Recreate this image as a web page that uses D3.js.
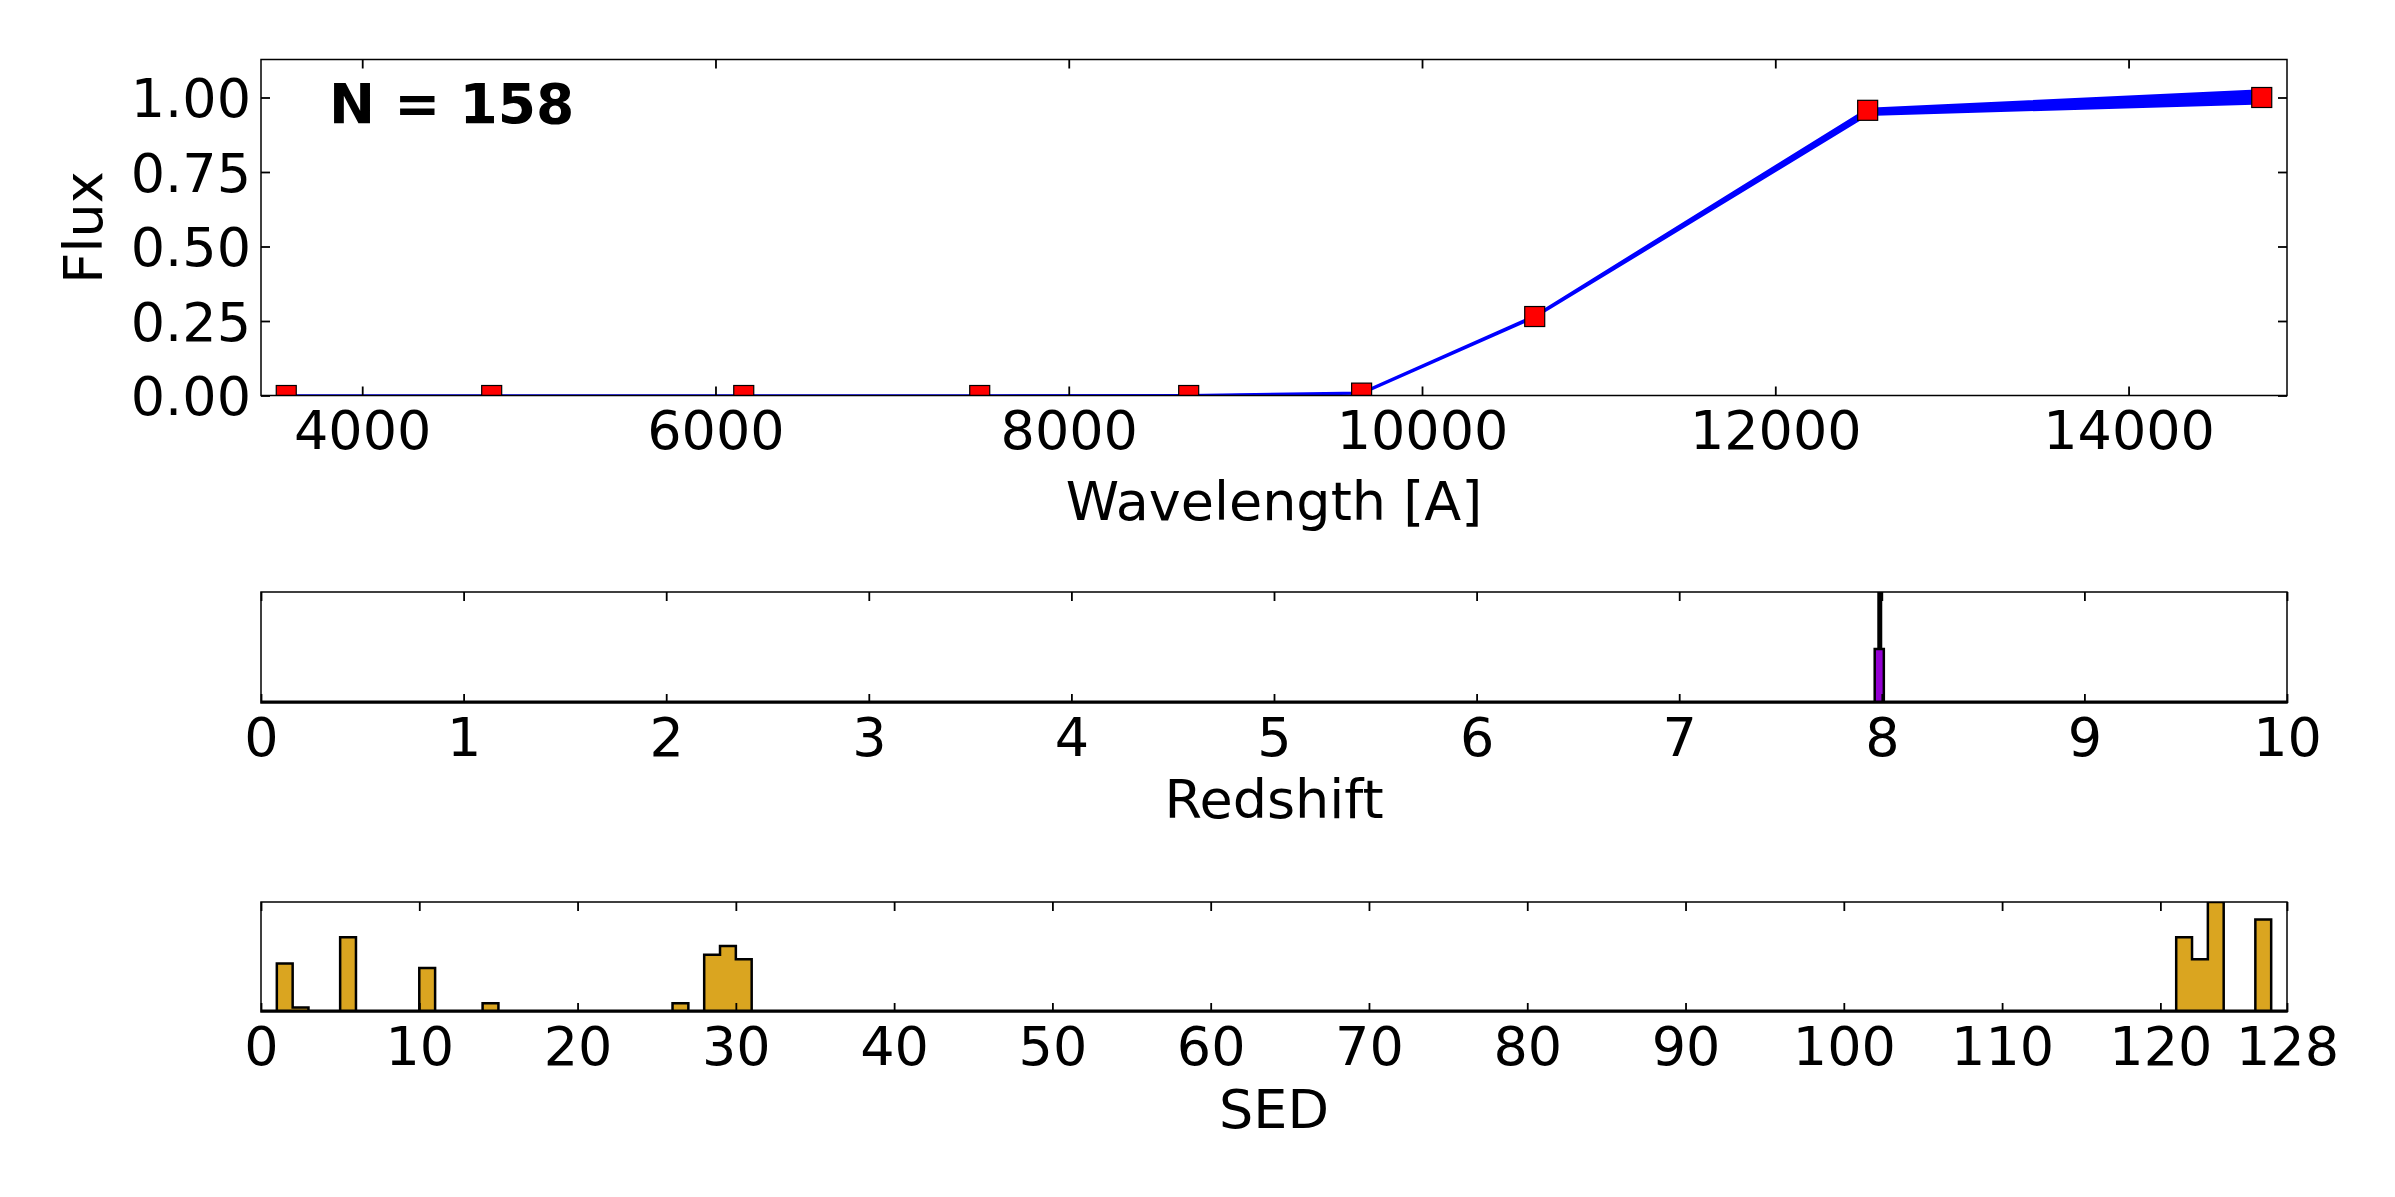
<!DOCTYPE html>
<html>
<head>
<meta charset="utf-8">
<script src="https://cdn.jsdelivr.net/npm/d3@7"></script>
<style>
  html, body { margin: 0; padding: 0; background: #fff; }
  svg { display: block; }
  text { font-family: "DejaVu Sans", sans-serif; fill: #000; }
</style>
</head>
<body>
<svg id="chart" width="2395" height="1197"></svg>
<script>
// ---------------- DATA ----------------
const wavelengths   = [3570, 4733, 6160, 7496, 8679, 9658, 10638, 12523, 14754];
const observedFlux  = [0, 0, 0, 0, 0, 0.008, 0.265, 0.957, 1.0];
const modelFluxLow  = [0, 0, 0, 0, 0, 0.006, 0.262, 0.942, 0.980];
const modelFluxHigh = [0, 0, 0, 0, 0.001, 0.010, 0.268, 0.962, 1.024];
const nModels = 158;

const waveTicks = [4000, 6000, 8000, 10000, 12000, 14000];
const fluxTicks = [0, 0.25, 0.5, 0.75, 1.0];

const zTicks = [0, 1, 2, 3, 4, 5, 6, 7, 8, 9, 10];
const zBinStart = [7.965];
const zBinEnd   = [8.010];
const zBinCount = [77];
const zCountMax = 158;
const zTrue = 7.99;

const sedTicks = [0, 10, 20, 30, 40, 50, 60, 70, 80, 90, 100, 110, 120, 128];
const sedBinStart = [1, 2, 5, 10, 14, 26, 28, 29, 30, 121, 122, 123, 126];
const sedBinCount = [11, 1, 17, 10, 2, 2, 13, 15, 12, 17, 12, 25, 21];
const sedBinWidth = 1;

// ---------------- LAYOUT ----------------
const svg = d3.select("#chart");
const FS = 54;
const xL = 261, xR = 2287;
const P1 = {top: 59.5, bottom: 395.5};
const P2 = {top: 592, bottom: 703};
const P3 = {top: 902, bottom: 1012};

function frame(p) {
  svg.append("rect")
    .attr("x", xL).attr("y", p.top)
    .attr("width", xR - xL).attr("height", p.bottom - p.top)
    .attr("fill", "none").attr("stroke", "#000").attr("stroke-width", 1.5);
}
function clip(id, p) {
  svg.append("clipPath").attr("id", id).append("rect")
    .attr("x", xL).attr("y", p.top).attr("width", xR - xL).attr("height", p.bottom - p.top);
}
function styleAxis(g, labelled) {
  g.select(".domain").remove();
  g.selectAll(".tick line").attr("stroke", "#000").attr("stroke-width", 1.8);
  g.selectAll(".tick text").style("font-size", FS + "px").style("font-family", "DejaVu Sans, sans-serif");
  if (!labelled) g.selectAll(".tick text").remove();
}
function xAxes(x, p, ticks, fmt) {
  const gb = svg.append("g").attr("transform", `translate(0,${p.bottom})`)
    .call(d3.axisBottom(x).tickValues(ticks).tickSize(-9).tickPadding(15).tickFormat(fmt));
  styleAxis(gb, true);
  const gt = svg.append("g").attr("transform", `translate(0,${p.top})`)
    .call(d3.axisTop(x).tickValues(ticks).tickSize(-9).tickFormat(""));
  styleAxis(gt, false);
}

// ---------------- PANEL 1: SED fit ----------------
const x1 = d3.scaleLinear().domain([3427, 14897]).range([xL, xR]);
const y1 = d3.scaleLinear().domain([0, 1.1275]).range([P1.bottom, P1.top]);
clip("c1", P1);

const band = wavelengths.map((w, i) => ({w, lo: modelFluxLow[i], hi: modelFluxHigh[i], obs: observedFlux[i]}));
const g1 = svg.append("g").attr("clip-path", "url(#c1)");
g1.append("path").datum(band)
  .attr("d", d3.area().x(d => x1(d.w)).y0(d => y1(d.lo)).y1(d => y1(d.hi)))
  .attr("fill", "#0000ff").attr("stroke", "none");
[ "lo", "hi" ].forEach(k => {
  g1.append("path").datum(band)
    .attr("d", d3.line().x(d => x1(d.w)).y(d => y1(d[k])))
    .attr("fill", "none").attr("stroke", "#0000ff").attr("stroke-width", 2.2).attr("stroke-linejoin", "round");
});
const ms = 20;
g1.selectAll("rect.obs").data(band).join("rect").attr("class", "obs")
  .attr("x", d => x1(d.w) - ms / 2).attr("y", d => y1(d.obs) - ms / 2)
  .attr("width", ms).attr("height", ms)
  .attr("fill", "#ff0000").attr("stroke", "#000").attr("stroke-width", 1.2);

frame(P1);
xAxes(x1, P1, waveTicks, d3.format("d"));
const gl = svg.append("g").attr("transform", `translate(${xL},0)`)
  .call(d3.axisLeft(y1).tickValues(fluxTicks).tickSize(-9).tickPadding(10).tickFormat(d3.format(".2f")));
styleAxis(gl, true);
gl.selectAll(".tick text").attr("dy", "0.36em");
const gr = svg.append("g").attr("transform", `translate(${xR},0)`)
  .call(d3.axisRight(y1).tickValues(fluxTicks).tickSize(-9).tickFormat(""));
styleAxis(gr, false);

svg.append("text").attr("x", (xL + xR) / 2).attr("y", 520)
  .attr("text-anchor", "middle").style("font-size", FS + "px").text("Wavelength [A]");
svg.append("text").attr("transform", `translate(102,${(P1.top + P1.bottom) / 2}) rotate(-90)`)
  .attr("text-anchor", "middle").style("font-size", FS + "px").text("Flux");
svg.append("text").attr("x", 329).attr("y", 123)
  .style("font-size", "55px").style("font-weight", "bold").text("N = " + nModels);

// step-filled histogram outline helper (bins given by start/end/count)
function stepPath(x, y, bins, lo, hi) {
  const pts = [[x(lo), y(0)]];
  bins.forEach(b => {
    pts.push([x(b.s), y(0)], [x(b.s), y(b.c)], [x(b.e), y(b.c)], [x(b.e), y(0)]);
  });
  pts.push([x(hi), y(0)]);
  return d3.line()(pts);
}
function mergeBins(bins) {
  // join contiguous bins so internal edges are not drawn (stepfilled look)
  const out = [];
  bins.forEach(b => {
    const last = out[out.length - 1];
    if (last && Math.abs(last.e - b.s) < 1e-9) last.parts.push(b), last.e = b.e;
    else out.push({s: b.s, e: b.e, parts: [b]});
  });
  return out;
}
function groupPath(x, y, grp) {
  const pts = [[x(grp.s), y(0)]];
  grp.parts.forEach(b => { pts.push([x(b.s), y(b.c)], [x(b.e), y(b.c)]); });
  pts.push([x(grp.e), y(0)]);
  return d3.line()(pts) + "Z";
}

// ---------------- PANEL 2: Redshift ----------------
const x2 = d3.scaleLinear().domain([0, 10]).range([xL, xR]);
const y2 = d3.scaleLinear().domain([0, zCountMax]).range([P2.bottom, P2.top]);
clip("c2", P2);
const g2 = svg.append("g").attr("clip-path", "url(#c2)");
g2.append("line").attr("x1", x2(zTrue)).attr("x2", x2(zTrue))
  .attr("y1", P2.top).attr("y2", P2.bottom).attr("stroke", "#000").attr("stroke-width", 5);
const zb = zBinStart.map((s, i) => ({s, e: zBinEnd[i], c: zBinCount[i]}));
mergeBins(zb).forEach(grp => {
  g2.append("path").attr("d", groupPath(x2, y2, grp))
    .attr("fill", "#9400d3").attr("stroke", "#000").attr("stroke-width", 2.5).attr("stroke-linejoin", "miter");
});
g2.append("line").attr("x1", xL).attr("x2", xR).attr("y1", P2.bottom - 1).attr("y2", P2.bottom - 1)
  .attr("stroke", "#000").attr("stroke-width", 3);
frame(P2);
xAxes(x2, P2, zTicks, d3.format("d"));
svg.append("text").attr("x", (xL + xR) / 2).attr("y", 818)
  .attr("text-anchor", "middle").style("font-size", FS + "px").text("Redshift");

// ---------------- PANEL 3: SED type ----------------
const x3 = d3.scaleLinear().domain([0, 128]).range([xL, xR]);
const y3 = d3.scaleLinear().domain([0, d3.max(sedBinCount)]).range([P3.bottom, P3.top]);
clip("c3", P3);
const g3 = svg.append("g").attr("clip-path", "url(#c3)");
const sb = sedBinStart.map((s, i) => ({s, e: s + sedBinWidth, c: sedBinCount[i]}));
mergeBins(sb).forEach(grp => {
  g3.append("path").attr("d", groupPath(x3, y3, grp))
    .attr("fill", "#daa520").attr("stroke", "#000").attr("stroke-width", 2.5).attr("stroke-linejoin", "miter");
});
g3.append("line").attr("x1", xL).attr("x2", xR).attr("y1", P3.bottom - 1).attr("y2", P3.bottom - 1)
  .attr("stroke", "#000").attr("stroke-width", 3);
frame(P3);
xAxes(x3, P3, sedTicks, d3.format("d"));
svg.append("text").attr("x", (xL + xR) / 2).attr("y", 1128)
  .attr("text-anchor", "middle").style("font-size", FS + "px").text("SED");
</script>
</body>
</html>
